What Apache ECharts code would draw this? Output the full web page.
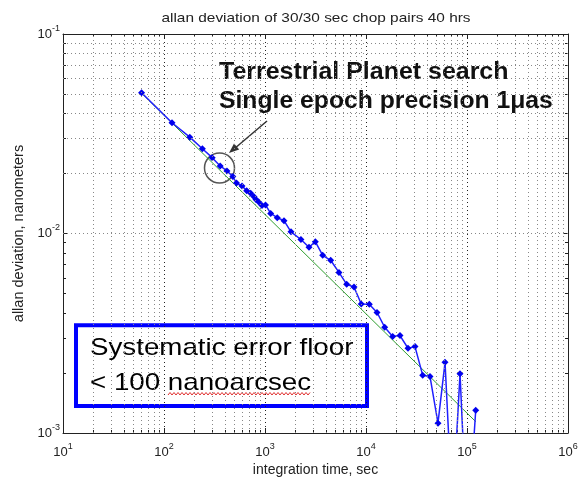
<!DOCTYPE html>
<html><head><meta charset="utf-8">
<script src="https://cdn.jsdelivr.net/npm/echarts@6/dist/echarts.min.js"></script>
<style>html,body{margin:0;padding:0;background:#fff;}#c{width:579px;height:478px;}</style>
</head><body><div id="c"></div>
<script>
// integration time (sec) and allan deviation (nm)
const tau = [60,120,180,240,300,360,420,480,522,592,659,722,778,815,867,934,1011,1138,1323,1543,1808,2270,2727,3148,3726,4470,5400,6441,7606,8978,10780,12850,15320,18380,21710,26050,30550,36400,43000,51600,60600,71800,85300,101000,122000];
const adev = [0.0508,0.0359,0.0304,0.0266,0.0240,0.0218,0.0206,0.0193,0.0179,0.0173,0.0164,0.0159,0.0153,0.0148,0.0144,0.0138,0.0139,0.0126,0.0120,0.0116,0.0102,0.00933,0.00853,0.00910,0.00777,0.00734,0.00638,0.00556,0.00539,0.00443,0.00442,0.00402,0.00339,0.00305,0.00308,0.00266,0.00271,0.00195,0.00192,0.00112,0.00226,0.0004,0.00198,0.0003,0.00130];
// tau^-1/2 reference line end points
const fitTau = [60, 122000];
const fitAdev = [0.0505, 0.00114];
// axis ticks
const xTicks = [10,100,1000,10000,100000,1000000];
const yTicks = [0.001,0.01,0.1];
const minorMult = [2,3,4,5,6,7,8,9];

const FONT = 'Liberation Sans, Arial, sans-serif';
const xMinor = [], yMinor = [];
xTicks.slice(0,-1).forEach(d => minorMult.forEach(m => xMinor.push(d*m)));
yTicks.slice(0,-1).forEach(d => minorMult.forEach(m => yMinor.push(+(d*m).toPrecision(3))));

function expLabel(v){ const e = Math.round(Math.log10(v)); return '{b|10}{e|' + e + '}'; }
const rich = {
  b: {fontSize: 13, fontFamily: FONT, color: '#222', lineHeight: 20},
  e: {fontSize: 9, fontFamily: FONT, color: '#222', verticalAlign: 'top', lineHeight: 10}
};
const gridLine = {show: true, lineStyle: {type: [1,3], color: '#222', width: 1}};
const axLine = {show: true, lineStyle: {color: '#222', width: 1}};
const tick = {show: true, inside: true, length: 5, lineStyle: {color: '#222'}};
const minorTickX = {show: true, inside: true, length: 3, customValues: xMinor, lineStyle: {color: '#222'}};
const minorTickY = {show: true, inside: true, length: 3, customValues: yMinor, lineStyle: {color: '#222'}};
const xBase = {type: 'log', logBase: 10, min: xTicks[0], max: xTicks[xTicks.length-1]};
const yBase = {type: 'log', logBase: 10, min: yTicks[0], max: yTicks[yTicks.length-1]};
const hiddenX = Object.assign({}, xBase, {axisLine: {show: false}, axisLabel: {show: false}, splitLine: {show: false}});
const hiddenY = Object.assign({}, yBase, {axisLine: {show: false}, axisLabel: {show: false}, splitLine: {show: false}});

const squiggle = [];
for (let x = 168, k = 0; x <= 310; x += 2, k++) squiggle.push([x, k % 2 ? 392.5 : 395]);

const chart = echarts.init(document.getElementById('c'), null, {renderer: 'canvas'});
chart.setOption({
  animation: false,
  backgroundColor: '#fff',
  grid: {left: 63, top: 34, width: 505, height: 399, containLabel: false, outerBoundsMode: 'none'},
  xAxis: [Object.assign({}, xBase, {
    position: 'bottom',
    name: 'integration time, sec', nameLocation: 'middle', nameGap: 29,
    nameTextStyle: {fontSize: 14, fontFamily: FONT, color: '#222'},
    axisLine: axLine, axisTick: tick,
    axisLabel: {formatter: expLabel, rich: rich, margin: 9},
    splitLine: gridLine
  }), Object.assign({}, xBase, {
    position: 'top',
    axisLine: axLine, axisTick: tick, axisLabel: {show: false}, splitLine: {show: false}
  }),
  Object.assign({}, hiddenX, {position: 'bottom', axisTick: minorTickX}),
  Object.assign({}, hiddenX, {position: 'top', axisTick: minorTickX})],
  yAxis: [Object.assign({}, yBase, {
    position: 'left',
    name: 'allan deviation, nanometers', nameLocation: 'middle', nameGap: 36,
    nameTextStyle: {fontSize: 14.5, fontFamily: FONT, color: '#222'},
    axisLine: axLine, axisTick: tick,
    axisLabel: {formatter: expLabel, rich: rich, margin: 3},
    splitLine: gridLine
  }), Object.assign({}, yBase, {
    position: 'right',
    axisLine: axLine, axisTick: tick, axisLabel: {show: false}, splitLine: {show: false}
  }),
  Object.assign({}, hiddenY, {position: 'left', axisTick: minorTickY}),
  Object.assign({}, hiddenY, {position: 'right', axisTick: minorTickY})],
  series: [{
    type: 'line', name: 'fit', silent: true, symbol: 'none', z: 2,
    data: fitTau.map((t, i) => [t, fitAdev[i]]),
    lineStyle: {color: '#2e9e2e', width: 1},
    markLine: {
      silent: true, symbol: ['none','none'], label: {show: false},
      lineStyle: {type: [1,3], color: '#888', width: 1},
      emphasis: {disabled: true},
      data: xMinor.map(v => ({xAxis: v})).concat(yMinor.map(v => ({yAxis: v})))
    }
  }, {
    type: 'line', name: 'adev', silent: true, z: 3,
    data: tau.map((t, i) => [t, adev[i]]),
    symbol: 'diamond', symbolSize: 7,
    lineStyle: {color: '#1f1fff', width: 1.5},
    itemStyle: {color: '#0000ee'}
  }],
  graphic: [
    {type: 'text', x: 316, y: 18, scaleX: 1.185, style: {text: 'allan deviation of 30/30 sec chop pairs 40 hrs', font: '13px ' + FONT, fill: '#222', textAlign: 'center', textVerticalAlign: 'middle'}},
    {type: 'text', x: 219, y: 72, scaleX: 1.04, style: {text: 'Terrestrial Planet search', font: 'bold 24px ' + FONT, fill: '#111', textAlign: 'left', textVerticalAlign: 'middle'}},
    {type: 'text', x: 219, y: 101, scaleX: 1.03, style: {text: 'Single epoch precision 1μas', font: 'bold 24px ' + FONT, fill: '#111', textAlign: 'left', textVerticalAlign: 'middle'}},
    {type: 'line', shape: {x1: 267, y1: 121, x2: 234, y2: 149}, style: {stroke: '#333', lineWidth: 1.5}},
    {type: 'polygon', shape: {points: [[229,153],[239.2,149.6],[234.0,143.5]]}, style: {fill: '#333'}},
    {type: 'circle', shape: {cx: 219.5, cy: 168, r: 15}, style: {fill: null, stroke: '#555', lineWidth: 1.5}},
    {type: 'rect', shape: {x: 76, y: 325.3, width: 291, height: 80.7}, style: {fill: null, stroke: '#0000ff', lineWidth: 4}},
    {type: 'text', x: 90, y: 348.7, scaleX: 1.155, style: {text: 'Systematic error floor', font: '24px ' + FONT, fill: '#000', textAlign: 'left', textVerticalAlign: 'middle'}},
    {type: 'text', x: 90, y: 383.2, scaleX: 1.155, style: {text: '< 100 nanoarcsec', font: '24px ' + FONT, fill: '#000', textAlign: 'left', textVerticalAlign: 'middle'}},
    {type: 'polyline', shape: {points: squiggle}, style: {stroke: '#e03030', lineWidth: 1, fill: null}}
  ]
});
</script></body></html>
